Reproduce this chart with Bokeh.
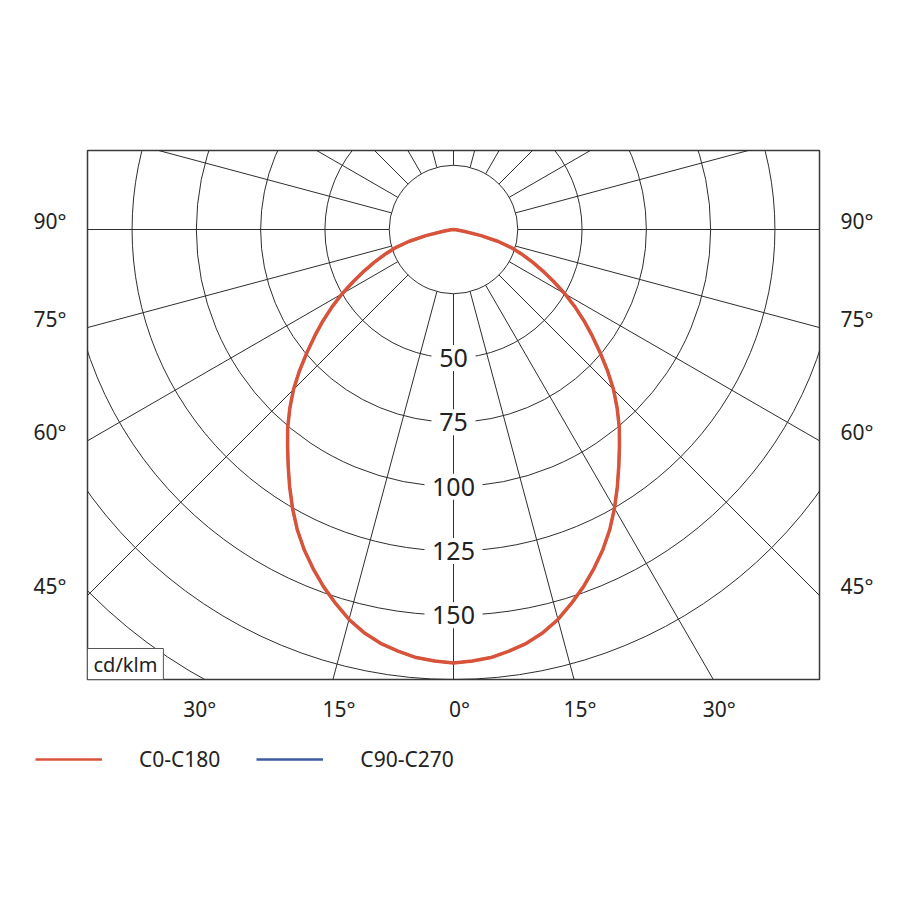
import numpy as np
from bokeh.plotting import figure
from bokeh.models import Range1d, Label, Legend, LegendItem, LinearAxis, FixedTicker
from bokeh.embed import file_html
from bokeh.resources import INLINE
from bokeh.core.properties import value

# ---- data (cd/klm, gamma angle in degrees from nadir) ----
gamma_deg = [0, 2.5, 5, 7.5, 10, 12.5, 15, 17.5, 20, 22.5, 25, 27.5, 30, 32.5, 35,
             37.5, 40, 42.5, 45, 47.5, 50, 52.5, 55, 57.5, 60, 62.5, 65, 67.5, 70,
             72.5, 75, 77.5, 80, 82.5, 85, 87.5, 90]
c0_c180 = [168.6, 168.0, 167.1, 165.4, 163.4, 160.6, 157.0, 152.5, 147.8, 142.7,
           137.4, 131.6, 125.2, 118.6, 112.1, 106.0, 100.3, 94.2, 88.0, 81.2,
           74.4, 68.0, 62.0, 56.0, 50.0, 44.0, 38.5, 33.4, 28.5, 23.8,
           18.0, 11.0, 4.0, 1.0, 0.0, 0.0, 0.0]
c90_c270 = [168.6, 168.0, 167.1, 165.4, 163.4, 160.6, 157.0, 152.5, 147.8, 142.7,
            137.4, 131.6, 125.2, 118.6, 112.1, 106.0, 100.3, 94.2, 88.0, 81.2,
            74.4, 68.0, 62.0, 56.0, 50.0, 44.0, 38.5, 33.4, 28.5, 23.8,
            18.0, 11.0, 4.0, 1.0, 0.0, 0.0, 0.0]
ring_values = [25, 50, 75, 100, 125, 150, 175]
ring_labels = [50, 75, 100, 125, 150]
outer_arc = 200
ray_angles = [-180, -165, -150, -135, -120, -105, -90, -75, -60, -45, -15, 0,
              15, 30, 45, 60, 75, 90, 105, 120, 135, 150, 165]
side_ticks = [90, 75, 60, 45]
bottom_ticks = [-30, -15, 0, 15, 30]
unit_label = "cd/klm"
series_names = ["C0-C180", "C90-C270"]

# ---- layout ----
FONT_NAME = "Noto Sans"
FONT = value(FONT_NAME)
GRID = "#2e2e2e"
TXT = "#222222"
RED = "#d8533a"
BLUE = "#3c5ba0"
R_MAX = 175.0
FW, FH = 732, 529
TOP, LEFT, BOTTOM = 150, 87, 50
W = 900
S = 450.0 / R_MAX
x_half = FW / 2 / S
y_bot = -R_MAX
y_top = y_bot + FH / S

p = figure(width=W, height=TOP + FH + BOTTOM,
           x_range=Range1d(-x_half, x_half), y_range=Range1d(y_bot, y_top),
           output_backend="svg", toolbar_location=None,
           x_axis_location=None, y_axis_location=None, title=None,
           min_border_left=LEFT, min_border_right=W - LEFT - FW,
           min_border_top=TOP, min_border_bottom=BOTTOM)
p.grid.visible = False
p.outline_line_color = "#3a3a3a"
p.outline_line_width = 1.5
p.background_fill_color = "white"
p.border_fill_color = "white"

# rings
n = len(ring_values)
p.circle(x=[0] * n, y=[0] * n, radius=ring_values, fill_color=None,
         line_color=GRID, line_width=1)
p.arc(x=0, y=0, radius=outer_arc, start_angle=np.pi, end_angle=1.5 * np.pi,
      line_color=GRID, line_width=1)

# rays
th = np.radians(ray_angles)
r0 = ring_values[0]
r1 = 300
p.segment(x0=r0 * np.sin(th), y0=-r0 * np.cos(th),
          x1=r1 * np.sin(th), y1=-r1 * np.cos(th),
          line_color=GRID, line_width=1)

# ring value labels with white boxes
ly = [-v for v in ring_labels]
lt = [str(v) for v in ring_labels]
lw = [14 * len(s) + 16 for s in lt]
p.rect(x=[0] * len(ly), y=ly, width=lw, height=[26] * len(ly),
       width_units="screen", height_units="screen",
       fill_color="white", line_color=None)
p.text(x=[0] * len(ly), y=ly, text=lt, text_font=FONT, text_font_size="25px",
       text_align="center", text_baseline="middle", text_color=TXT)

# curves (mirror the half-plane data)
def polar_xy(vals):
    ang = [-g for g in gamma_deg[::-1][:-1]] + gamma_deg
    rr = vals[::-1][:-1] + vals
    a = np.radians(ang)
    rr = np.array(rr)
    return rr * np.sin(a), -rr * np.cos(a)

bx, by = polar_xy(c90_c270)
p.line(bx, by, line_color=BLUE, line_width=2.5)
rx, ry = polar_xy(c0_c180)
p.line(rx, ry, line_color=RED, line_width=3.5, line_join="round")

# angle axes (labels sit just above the rays / right of the ticks)
def style_axis(ax, standoff):
    ax.axis_line_color = None
    ax.major_tick_line_color = None
    ax.minor_tick_line_color = None
    ax.major_tick_out = 0
    ax.major_tick_in = 0
    ax.major_label_standoff = standoff
    ax.major_label_text_font = FONT_NAME
    ax.major_label_text_font_size = "21px"
    ax.major_label_text_color = TXT

side_lift = 9.0 / S
side_pos = [round(-x_half * np.cos(np.radians(a)) / np.sin(np.radians(a)) + side_lift, 4)
            for a in side_ticks]
side_over = {v: f"{a}°" for v, a in zip(side_pos, side_ticks)}
for loc in ("left", "right"):
    ax = LinearAxis(ticker=FixedTicker(ticks=side_pos, minor_ticks=[]),
                    major_label_overrides=side_over)
    style_axis(ax, 21)
    p.add_layout(ax, loc)

bottom_shift = 6.0 / S
bot_pos = [round(R_MAX * np.tan(np.radians(a)) + bottom_shift, 4) for a in bottom_ticks]
bot_over = {v: f"{abs(a)}°" for v, a in zip(bot_pos, bottom_ticks)}
bax = LinearAxis(ticker=FixedTicker(ticks=bot_pos, minor_ticks=[]),
                 major_label_overrides=bot_over)
style_axis(bax, 15)
p.add_layout(bax, "below")

# unit box
p.add_layout(Label(x=-x_half, y=y_bot, text=unit_label, text_align="left",
                   text_baseline="bottom", text_font=FONT_NAME, text_font_size="20px",
                   text_color=TXT, background_fill_color="white",
                   border_line_color="#555555", border_line_width=1,
                   padding=dict(x=6, y=2)))

# ---- legend strip (same series, drawn off-view; only the legend shows) ----
LH = 60
q = figure(width=W, height=LH, x_range=Range1d(0, W), y_range=Range1d(5000, 5000 + LH),
           output_backend="svg", toolbar_location=None,
           x_axis_location=None, y_axis_location=None, title=None,
           min_border=0, outline_line_color=None)
q.grid.visible = False
red_l = q.line(rx, ry, line_color=RED, line_width=2.5)
blue_l = q.line(bx, by, line_color=BLUE, line_width=2.5)
legend = Legend(items=[LegendItem(label=series_names[0], renderers=[red_l]),
                       LegendItem(label=series_names[1], renderers=[blue_l])],
                orientation="horizontal", location="left",
                glyph_width=67, glyph_height=20, label_standoff=37, spacing=36,
                padding=0, margin=35, border_line_color=None,
                background_fill_alpha=0, label_text_font=FONT_NAME,
                label_text_font_size="21px", label_text_color=TXT)
q.add_layout(legend)

open("out.html", "w").write(file_html([p, q], INLINE))
